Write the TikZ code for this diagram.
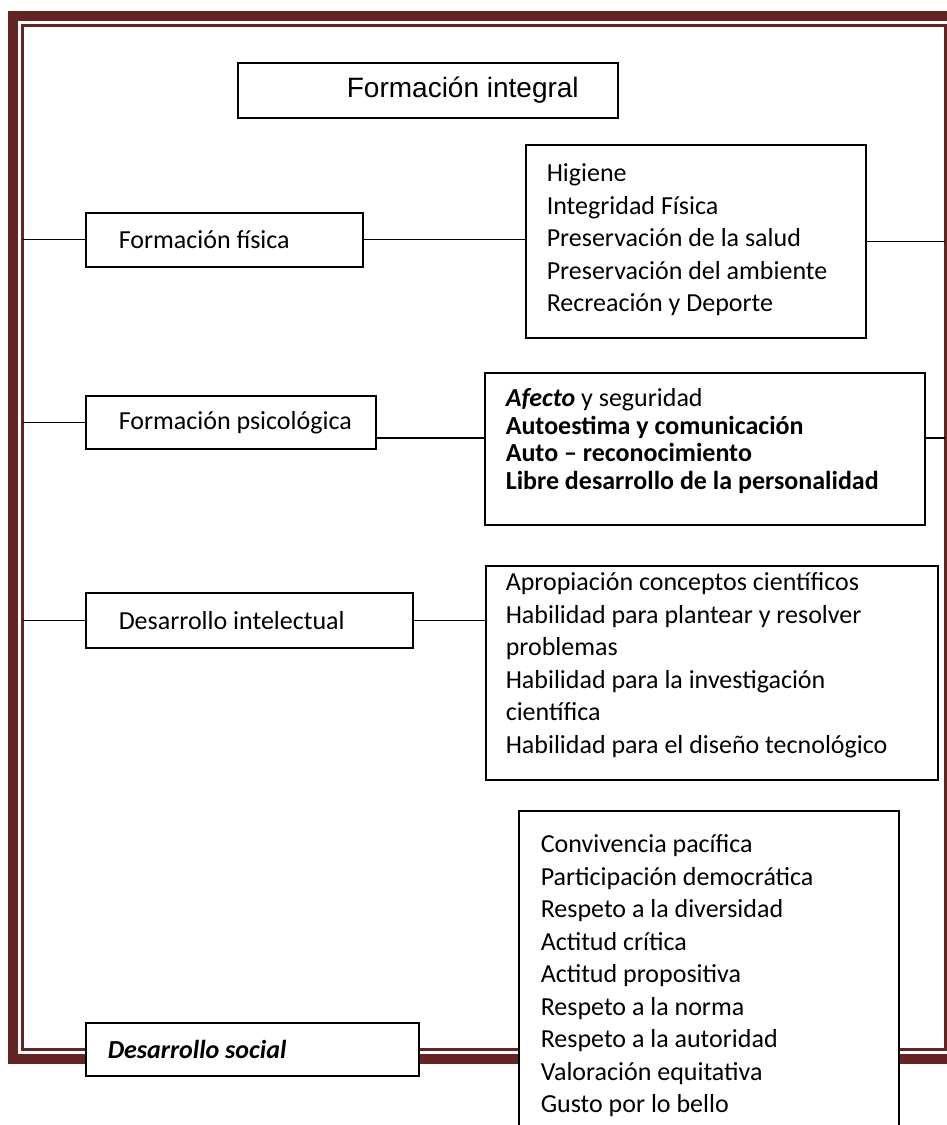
\documentclass[tikz,border=0pt]{standalone}
\usepackage{fontspec}
\setmainfont{Carlito}
\newfontfamily\arialfont{Liberation Sans}
\usetikzlibrary{positioning}
\definecolor{framered}{HTML}{632423}

\begin{document}
\begin{tikzpicture}[x=1pt, y=-1pt,
    box/.style={rectangle, draw, line width=1.5pt, fill=white, anchor=north west,
        inner xsep=0pt, inner ysep=0pt, align=flush left,
        font=\fontsize{26}{32.5}\selectfont},
    pad/.style={execute at begin node={\leftskip=#1\relax}},
    link/.style={line width=1.3pt}
]
    \useasboundingbox (0,0) rectangle (946,1125);

    % marco
    \draw[framered, line width=10pt] (13,15.5) rectangle (990,1058.5);
    \draw[framered, line width=3pt] (22.5,25.5) rectangle (945,1049.5);
    \coordinate (marcoL) at (22.5,0);
    \coordinate (marcoR) at (945,0);

    \node[box, text width=380pt, minimum height=55pt, align=flush right,
        execute at begin node={\rightskip=39pt\relax},
        font=\arialfont\fontsize{28}{32.5}\selectfont] (integral) at (237,62) {Formación integral};

    \node[box, text width=277pt, minimum height=54pt, pad=33pt] (fisica) at (85,212) {Formación física};
    \node[box, text width=340pt, text height=37pt, text depth=156pt, pad=21pt] (fisicaItems) at (525,144)
        {Higiene\\Integridad Física\\Preservación de la salud\\Preservación del ambiente\\Recreación y Deporte};

    \node[box, text width=290pt, minimum height=53pt, pad=33pt] (psico) at (85,395) {Formación psicológica};
    \node[box, text width=440pt, text height=34pt, text depth=118pt, pad=21pt,
        font=\fontsize{26}{27.5}\selectfont] (psicoItems) at (484,372)
        {\textbf{\textit{Afecto}} y seguridad\\\textbf{Autoestima y comunicación}\\\textbf{Auto – reconocimiento}\\\textbf{Libre desarrollo de la personalidad}};
    \coordinate (psicoY) at (0,438);

    \node[box, text width=327pt, minimum height=55pt, pad=33pt] (intelecto) at (85,592) {Desarrollo intelectual};
    \node[box, text width=452pt, text height=25pt, text depth=189pt, pad=20pt] (intelectoItems) at (485,565)
        {Apropiación conceptos científicos\\Habilidad para plantear y resolver\\problemas\\Habilidad para la investigación\\científica\\Habilidad para el diseño tecnológico};

    \node[box, text width=380pt, text height=42pt, text depth=320pt, pad=22pt] (socialItems) at (518,810)
        {Convivencia pacífica\\Participación democrática\\Respeto a la diversidad\\Actitud crítica\\Actitud propositiva\\Respeto a la norma\\Respeto a la autoridad\\Valoración equitativa\\Gusto por lo bello};
    \node[box, text width=333pt, minimum height=53pt, pad=22pt,
        font=\fontsize{26}{32.5}\selectfont\bfseries\itshape] (social) at (85,1022) {Desarrollo social};

    \draw[link] (marcoL |- fisica.west) -- (fisica.west);
    \draw[link] (fisica.east) -- (fisica.east -| fisicaItems.west);
    \draw[link] (fisicaItems.east) -- (fisicaItems.east -| marcoR);
    \draw[link] (marcoL |- psico.west) -- (psico.west);
    \draw[link] (psico.east |- psicoY) -- (psicoItems.west |- psicoY);
    \draw[link] (psicoItems.east |- psicoY) -- (marcoR |- psicoY);
    \draw[link] (marcoL |- intelecto.west) -- (intelecto.west);
    \draw[link] (intelecto.east) -- (intelecto.east -| intelectoItems.west);
\end{tikzpicture}
\end{document}
